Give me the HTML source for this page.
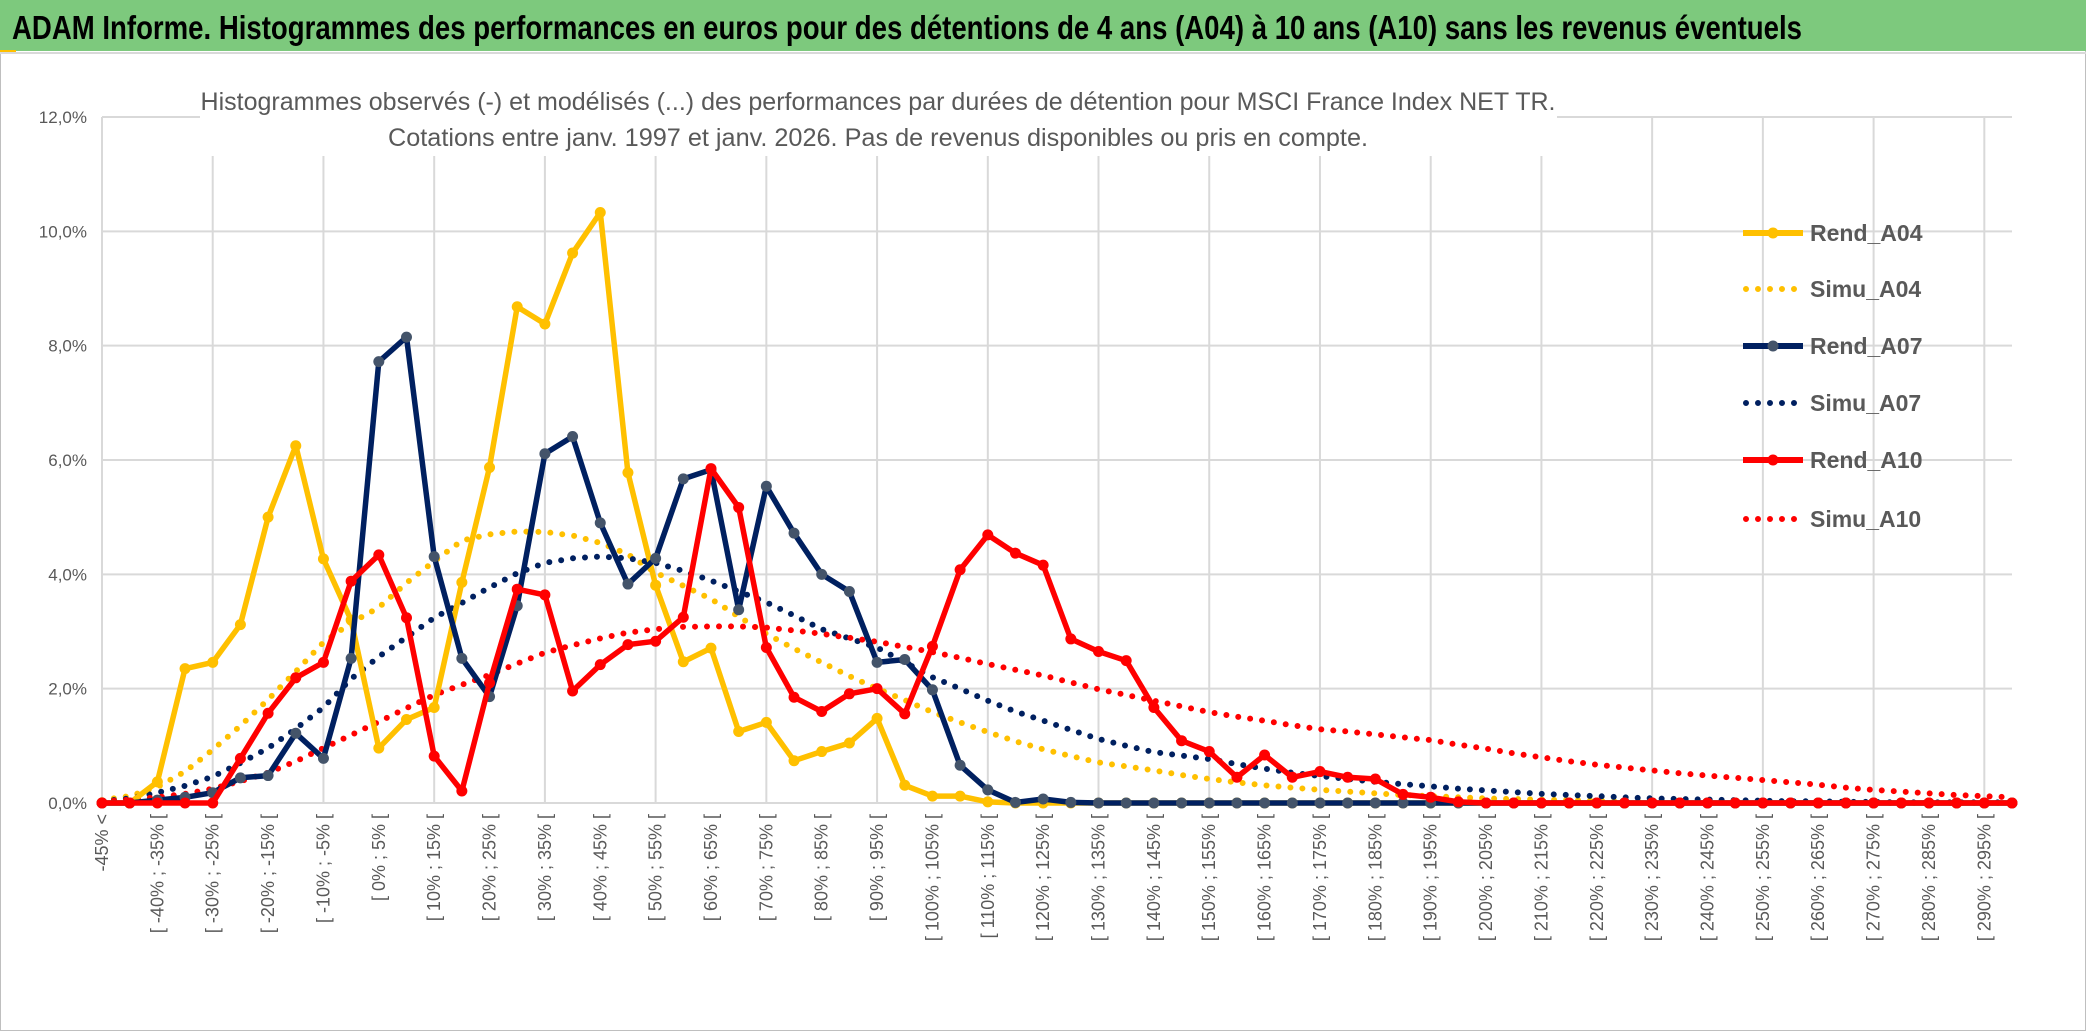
<!DOCTYPE html>
<html><head><meta charset="utf-8">
<style>
html,body{margin:0;padding:0;background:#fff;}
svg{display:block;font-family:"Liberation Sans",sans-serif;}
</style></head>
<body>
<svg id="chart" width="2086" height="1031" viewBox="0 0 2086 1031" xmlns="http://www.w3.org/2000/svg">
  <rect x="0" y="0" width="2086" height="1031" fill="#fff"/>
  <rect x="0.5" y="0.5" width="2085" height="1030" fill="none" stroke="#bfbfbf"/>
  <rect x="0" y="0" width="2086" height="51" fill="#7dc97d"/>
  <rect x="0" y="50" width="16" height="3" fill="#ffc000"/>
  <line x1="0" y1="53" x2="2086" y2="53" stroke="#d9d9d9" stroke-width="2"/>
  <text x="12" y="39" font-size="33" font-weight="bold" fill="#000" textLength="1790" lengthAdjust="spacingAndGlyphs">ADAM Informe. Histogrammes des performances en euros pour des détentions de 4 ans (A04) à 10 ans (A10) sans les revenus éventuels</text>
  <g id="grid"></g>
  <g id="yaxis"></g>
  <g id="xaxis"></g>
  <rect x="200" y="80" width="1357" height="76" fill="#fff"/>
  <text x="878" y="110" font-size="25" fill="#595959" text-anchor="middle" textLength="1355" lengthAdjust="spacingAndGlyphs">Histogrammes observés (-) et modélisés (...) des performances par durées de détention pour MSCI France Index NET TR.</text>
  <text x="878" y="146" font-size="25" fill="#595959" text-anchor="middle" textLength="980" lengthAdjust="spacingAndGlyphs">Cotations entre janv. 1997 et janv. 2026. Pas de revenus disponibles ou pris en compte.</text>
  <g id="series"></g>
  <g id="legend"></g>
</svg>
<script>
const categories = (function(){
  const c = ["-45% <"];
  for (let a = -45; a < 300; a += 5) c.push("[ " + a + "% ; " + (a + 5) + "% [");
  return c;
})();
const yTicks = [0, 2, 4, 6, 8, 10, 12];
const yTickLabels = ["0,0%", "2,0%", "4,0%", "6,0%", "8,0%", "10,0%", "12,0%"];
const rendA04 = [0,0,0.37,2.35,2.46,3.12,5.0,6.25,4.27,3.2,0.96,1.46,1.67,3.86,5.87,8.68,8.38,9.62,10.33,5.78,3.81,2.47,2.71,1.25,1.41,0.74,0.9,1.05,1.48,0.31,0.12,0.12,0.02,0,0,0,0,0,0,0,0,0,0,0,0,0,0,0,0,0,0,0,0,0,0,0,0,0,0,0,0,0,0,0,0,0,0,0,0,0];
const simuA04 = [0.05,0.12,0.28,0.55,0.93,1.35,1.81,2.3,2.81,3.15,3.42,3.85,4.23,4.59,4.7,4.75,4.74,4.68,4.55,4.35,4.03,3.8,3.57,3.26,2.96,2.7,2.46,2.22,2.0,1.8,1.59,1.41,1.24,1.08,0.94,0.82,0.71,0.64,0.57,0.49,0.42,0.36,0.31,0.27,0.23,0.2,0.17,0.14,0.12,0.1,0.08,0.07,0.06,0.05,0.04,0.03,0.03,0.02,0.02,0.01,0.01,0.01,0.01,0.01,0,0,0,0,0,0];
const rendA07 = [0,0,0.05,0.1,0.18,0.44,0.48,1.22,0.78,2.53,7.72,8.15,4.31,2.53,1.86,3.45,6.11,6.41,4.9,3.83,4.28,5.67,5.83,3.38,5.54,4.72,4.0,3.7,2.46,2.51,1.98,0.66,0.23,0.01,0.07,0.01,0,0,0,0,0,0,0,0,0,0,0,0,0,0,0,0,0,0,0,0,0,0,0,0,0,0,0,0,0,0,0,0,0,0];
const simuA07 = [0.03,0.08,0.18,0.3,0.46,0.7,0.96,1.3,1.67,2.17,2.56,2.9,3.24,3.5,3.77,4.02,4.2,4.28,4.31,4.28,4.2,4.06,3.89,3.7,3.51,3.28,3.04,2.88,2.72,2.46,2.2,2.0,1.79,1.6,1.44,1.28,1.12,1.0,0.89,0.83,0.77,0.68,0.6,0.53,0.47,0.42,0.37,0.33,0.29,0.25,0.22,0.19,0.16,0.14,0.12,0.1,0.08,0.07,0.06,0.05,0.04,0.03,0.03,0.02,0.02,0.01,0.01,0.01,0.01,0.01];
const rendA10 = [0,0,0,0,0,0.78,1.57,2.19,2.46,3.88,4.34,3.24,0.82,0.21,2.1,3.74,3.64,1.96,2.42,2.77,2.83,3.25,5.85,5.17,2.72,1.85,1.6,1.91,2.0,1.56,2.74,4.08,4.69,4.37,4.16,2.87,2.65,2.49,1.67,1.09,0.9,0.45,0.84,0.45,0.55,0.45,0.42,0.15,0.1,0.02,0,0,0,0,0,0,0,0,0,0,0,0,0,0,0,0,0,0,0,0];
const simuA10 = [0.03,0.06,0.1,0.16,0.25,0.38,0.53,0.73,0.96,1.19,1.42,1.66,1.89,2.07,2.24,2.44,2.63,2.76,2.88,2.98,3.04,3.08,3.09,3.09,3.07,3.02,2.96,2.89,2.82,2.73,2.64,2.54,2.43,2.33,2.23,2.11,1.99,1.89,1.79,1.69,1.59,1.51,1.44,1.36,1.29,1.25,1.2,1.15,1.1,1.02,0.95,0.87,0.8,0.73,0.67,0.62,0.57,0.52,0.48,0.44,0.4,0.36,0.32,0.27,0.23,0.2,0.17,0.14,0.12,0.1];
const seriesNames = ["Rend_A04","Simu_A04","Rend_A07","Simu_A07","Rend_A10","Simu_A10"];

const NS = "http://www.w3.org/2000/svg";
const X0 = 102, X1 = 2012, Y0 = 803, Y12 = 117;
function xPos(i){ return X0 + (X1 - X0) * i / (categories.length - 1); }
function yPos(v){ return Y0 - (Y0 - Y12) * v / 12; }
function mk(tag, attrs, parent){
  const e = document.createElementNS(NS, tag);
  for (const k in attrs) e.setAttribute(k, attrs[k]);
  parent.appendChild(e);
  return e;
}
const grid = document.getElementById("grid");
yTicks.forEach(function(t){
  const l = mk("line", {x1: X0, x2: X1, y1: yPos(t), y2: yPos(t), stroke: "#d9d9d9", "stroke-width": 2}, grid);
  
  
});
for (let i = 0; i < categories.length; i += 4) {
  const l = mk("line", {x1: xPos(i), x2: xPos(i), y1: Y12, y2: Y0, stroke: "#d9d9d9", "stroke-width": 2}, grid);
  
  
}
const ya = document.getElementById("yaxis");
yTicks.forEach(function(t, k){
  const tx = mk("text", {x: 87, y: yPos(t) + 6, "font-size": 17, fill: "#595959", "text-anchor": "end"}, ya);
  tx.textContent = yTickLabels[k];
  
  
});
const xa = document.getElementById("xaxis");
for (let i = 0; i < categories.length; i += 2) {
  const x = xPos(i) + 6, y = 814;
  const tx = mk("text", {x: x, y: y, "font-size": 18, fill: "#595959", "text-anchor": "end", transform: "rotate(-90 " + x + " " + y + ")"}, xa);
  tx.textContent = categories[i];
  
  
}
const sg = document.getElementById("series");
function pts(arr){ return arr.map(function(v, i){ return xPos(i).toFixed(1) + "," + yPos(v).toFixed(1); }).join(" "); }
function dotted(arr, color, name){
  const p = mk("polyline", {points: pts(arr), fill: "none", stroke: color, "stroke-width": 6, "stroke-linecap": "round", "stroke-dasharray": "0 12"}, sg);
  
  
}
function solid(arr, color, mcolor, name){
  const p = mk("polyline", {points: pts(arr), fill: "none", stroke: color, "stroke-width": 5.5, "stroke-linejoin": "round"}, sg);
  
  
  arr.forEach(function(v, i){
    const c = mk("circle", {cx: xPos(i), cy: yPos(v), r: 5.5, fill: mcolor}, sg);
    
    
  });
}
dotted(simuA04, "#ffc000", "simu-a04-line");
dotted(simuA07, "#002060", "simu-a07-line");
dotted(simuA10, "#ff0000", "simu-a10-line");
solid(rendA04, "#ffc000", "#ffc000", "rend-a04-line");
solid(rendA07, "#002060", "#44546a", "rend-a07-line");
solid(rendA10, "#ff0000", "#ff0000", "rend-a10-line");

const lg = document.getElementById("legend");
const lcolors = ["#ffc000","#ffc000","#002060","#002060","#ff0000","#ff0000"];
const lys = [233, 289, 346, 403, 460, 519];
seriesNames.forEach(function(n, k){
  const g = mk("g", {}, lg);
  
  
  const y = lys[k];
  if (k % 2 === 0) {
    mk("line", {x1: 1743, x2: 1803, y1: y, y2: y, stroke: lcolors[k], "stroke-width": 6}, g);
    mk("circle", {cx: 1773, cy: y, r: 5.5, fill: k === 2 ? "#44546a" : lcolors[k]}, g);
  } else {
    mk("line", {x1: 1746, x2: 1803, y1: y, y2: y, stroke: lcolors[k], "stroke-width": 6, "stroke-linecap": "round", "stroke-dasharray": "0 12"}, g);
  }
  const t = mk("text", {x: 1810, y: y + 8, "font-size": 23, "font-weight": "bold", fill: "#595959"}, g);
  t.textContent = n;
});
</script>
</body></html>
